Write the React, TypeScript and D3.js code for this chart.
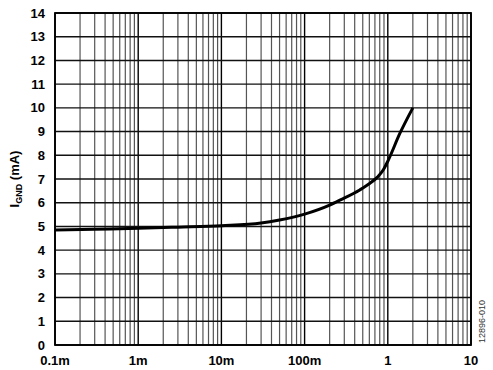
import { useEffect, useRef } from 'react';
import * as d3 from 'd3';

// curve data (load current in A vs ground current in mA)
const loadCurrent = [0.0001, 0.0003, 0.001, 0.003, 0.01, 0.03, 0.05, 0.1, 0.2, 0.27, 0.46, 0.61, 0.75, 0.88, 1, 1.4, 2];
const groundCurrent = [4.85, 4.88, 4.92, 4.97, 5.03, 5.14, 5.27, 5.52, 5.9, 6.12, 6.54, 6.82, 7.08, 7.38, 7.75, 8.93, 10];

const xTicks = [0.0001, 0.001, 0.01, 0.1, 1, 10];
const xTickLabels = ['0.1m', '1m', '10m', '100m', '1', '10'];
const yTicks = d3.range(0, 15);

export default function App() {
  const svgRef = useRef<SVGSVGElement>(null);

  useEffect(() => {
    if (!svgRef.current) return;
    const svg = d3.select(svgRef.current);
    svg.selectAll('*').remove();

    const width = 493;
    const height = 370;
    const margin = { top: 13, right: 22, bottom: 25, left: 55 };
    const innerW = width - margin.left - margin.right;
    const innerH = height - margin.top - margin.bottom;
    const font = 'Liberation Sans, Arial, sans-serif';

    const x = d3.scaleLog().domain([0.0001, 10]).range([0, innerW]);
    const y = d3.scaleLinear().domain([0, 14]).range([innerH, 0]);

    const g = svg.append('g').attr('transform', `translate(${margin.left},${margin.top})`);

    // minor vertical grid (2..9 in each decade)
    const minor: number[] = [];
    for (let e = -4; e < 1; e++) {
      for (let m = 2; m <= 9; m++) minor.push(m * Math.pow(10, e));
    }
    g.selectAll('line.minor')
      .data(minor)
      .enter()
      .append('line')
      .attr('x1', d => x(d))
      .attr('x2', d => x(d))
      .attr('y1', 0)
      .attr('y2', innerH)
      .attr('stroke', '#555')
      .attr('stroke-width', 1.2);

    // major vertical grid
    g.selectAll('line.major')
      .data(xTicks)
      .enter()
      .append('line')
      .attr('x1', d => x(d))
      .attr('x2', d => x(d))
      .attr('y1', 0)
      .attr('y2', innerH)
      .attr('stroke', '#000')
      .attr('stroke-width', 1.4);

    // horizontal grid
    g.selectAll('line.h')
      .data(yTicks)
      .enter()
      .append('line')
      .attr('x1', 0)
      .attr('x2', innerW)
      .attr('y1', d => y(d))
      .attr('y2', d => y(d))
      .attr('stroke', '#111')
      .attr('stroke-width', 1.4);

    // frame
    g.append('rect')
      .attr('width', innerW)
      .attr('height', innerH)
      .attr('fill', 'none')
      .attr('stroke', '#000')
      .attr('stroke-width', 1.8);

    // curve
    const line = d3.line<number>()
      .x((d, i) => x(loadCurrent[i]))
      .y(d => y(d))
      .curve(d3.curveMonotoneX);

    g.append('path')
      .datum(groundCurrent)
      .attr('fill', 'none')
      .attr('stroke', '#000')
      .attr('stroke-width', 3)
      .attr('d', line);

    // y tick labels
    g.selectAll('text.yt')
      .data(yTicks)
      .enter()
      .append('text')
      .attr('x', -10)
      .attr('y', d => y(d))
      .attr('dy', '0.35em')
      .attr('text-anchor', 'end')
      .attr('font-family', font)
      .attr('font-weight', 'bold')
      .attr('font-size', 13)
      .text(d => String(d));

    // x tick labels
    g.selectAll('text.xt')
      .data(xTicks)
      .enter()
      .append('text')
      .attr('x', d => x(d))
      .attr('y', innerH + 20)
      .attr('text-anchor', 'middle')
      .attr('font-family', font)
      .attr('font-weight', 'bold')
      .attr('font-size', 13)
      .text((d, i) => xTickLabels[i]);

    // y axis label
    const yl = svg.append('text')
      .attr('transform', `translate(19,${margin.top + innerH / 2}) rotate(-90)`)
      .attr('text-anchor', 'middle')
      .attr('font-family', font)
      .attr('font-weight', 'bold')
      .attr('font-size', 13);
    yl.append('tspan').text('I');
    yl.append('tspan').attr('font-size', 9).attr('dy', 3).text('GND');
    yl.append('tspan').attr('dy', -3).text(' (mA)');

    // figure code
    svg.append('text')
      .attr('transform', `translate(${width - 8},${margin.top + innerH - 2}) rotate(-90)`)
      .attr('text-anchor', 'start')
      .attr('font-family', font)
      .attr('font-size', 9)
      .attr('fill', '#333')
      .text('12896-010');
  }, []);

  return (
    <svg ref={svgRef} width={493} height={370} style={{ position: 'absolute', left: 0, top: 0, background: '#fff' }} />
  );
}
